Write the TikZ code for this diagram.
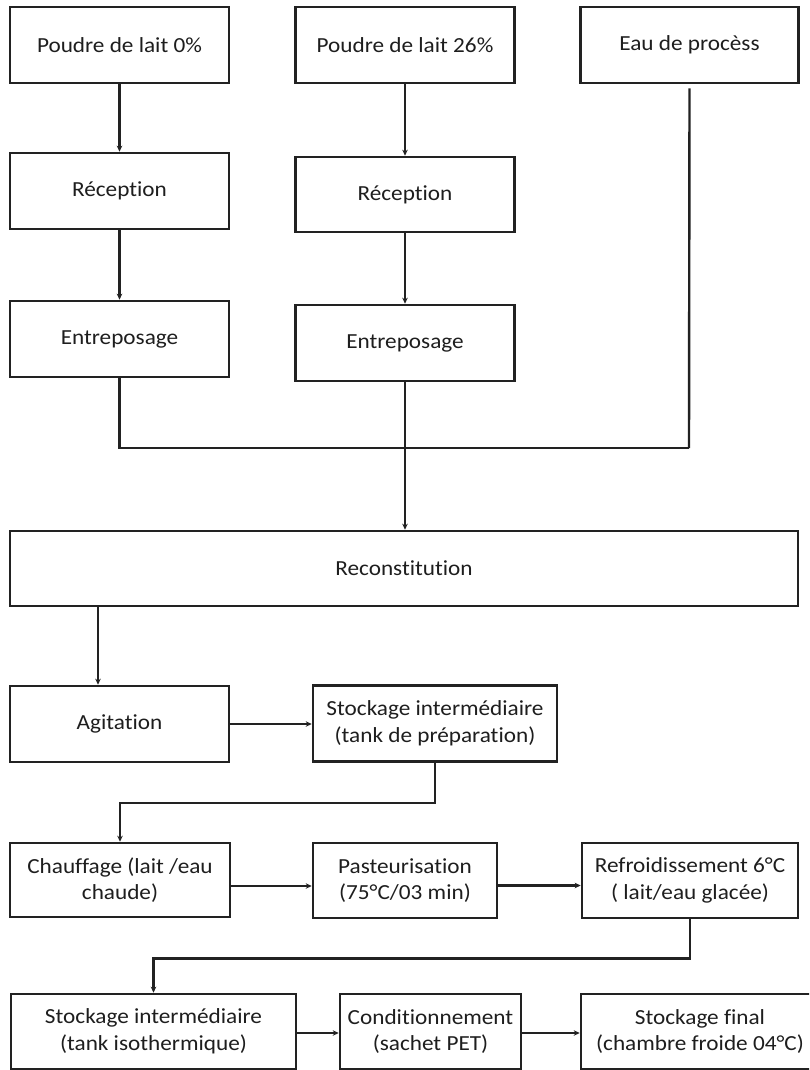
\documentclass[tikz,border=0pt]{standalone}
\usepackage{fontspec}
\setmainfont{Carlito}[FakeStretch=1.08, Ligatures=NoCommon]
\usetikzlibrary{arrows.meta}
\definecolor{ink}{HTML}{222222}
\definecolor{txt}{HTML}{1E1E1E}
\tikzset{
  stepbox/.style={draw=ink, line width=2.6pt, fill=white, inner sep=0pt,
    minimum width=#1, align=center, text=txt,
    font=\fontsize{21.5}{26.5}\selectfont},
  stepbox/.default=219pt,
  link/.style={draw=ink, line width=2.4pt},
  arr/.style={link, -{Stealth[length=6pt,width=5.5pt]}}
}
\begin{document}
\begin{tikzpicture}[x=1pt, y=-1pt]
\useasboundingbox (0,0) rectangle (809,1070);
\clip (0,0) rectangle (809,1070);
\fill[white] (0,0) rectangle (809,1070);

% raw materials
\node[stepbox, minimum height=76pt] (p0)  at (119.5,45) {Poudre de lait 0\%};
\node[stepbox, minimum height=76pt] (p26) at (405,45)   {Poudre de lait 26\%};
\node[stepbox=218pt, minimum height=76pt] (eau) at (689.5,45) {Eau de procèss};

% reception
\node[stepbox, minimum height=76pt] (rec1) at (119.5,191)   {Réception};
\node[stepbox, minimum height=75pt] (rec2) at (405,194.5)   {Réception};

% storage
\node[stepbox, minimum height=76pt] (ent1) at (119.5,339) {Entreposage};
\node[stepbox, minimum height=76pt] (ent2) at (405,343)   {Entreposage};

% reconstitution
\node[stepbox=788pt, minimum height=75pt] (recon) at (404,568.5) {Reconstitution};

% mixing and buffer tank
\node[stepbox, minimum height=76pt] (agit) at (119.5,724) {Agitation};
\node[stepbox=244pt, minimum height=76pt] (stk1) at (435,723.5)
  {Stockage intermédiaire\\(tank de préparation)};

% heat treatment
\node[stepbox=220pt, minimum height=74pt] (chauf) at (120,880) {Chauffage (lait /eau\\chaude)};
\node[stepbox=184pt, minimum height=75pt] (past) at (405,880.5) {Pasteurisation\\(75°C/03 min)};
\node[stepbox=216pt, minimum height=75pt] (refr) at (690,880.5) {Refroidissement 6°C\\( lait/eau glacée)};

% packaging and final storage
\node[stepbox=285pt, minimum height=75pt] (stk2) at (153.5,1031.5)
  {Stockage intermédiaire\\(tank isothermique)};
\node[stepbox=181pt, minimum height=75pt] (cond) at (430.5,1031.5)
  {Conditionnement\\(sachet PET)};
\node[stepbox=238pt, minimum height=75pt] (final) at (700,1031.5)
  {Stockage final\\(chambre froide 04°C)};

% connectors
\draw[arr] (p0.south) -- (rec1.north);
\draw[arr] (p26.south) -- (rec2.north);
\draw[arr] (rec1.south) -- (ent1.north);
\draw[arr] (rec2.south) -- (ent2.north);

\coordinate (merge) at (689,448);
\draw[link] (ent1.south) |- (merge);
\draw[link] ([yshift=-4pt]eau.south) -- (merge);
\draw[arr] (ent2.south) -- (recon.north -| ent2.south);

\coordinate (down) at (98,0);
\draw[arr] (recon.south -| down) -- (agit.north -| down);
\draw[arr] (agit.east) -- (agit.east -| stk1.west);
\draw[arr] (stk1.south) -- ++(0,40) -| (chauf.north);

\draw[arr] ([yshift=-6pt]chauf.east) -- ([yshift=-6pt]chauf.east -| past.west);
\draw[arr] ([yshift=-5pt]past.east) -- ([yshift=-5pt]past.east -| refr.west);
\draw[arr] (refr.south) -- ++(0,39) -| (stk2.north);

\draw[arr] ([yshift=-1.5pt]stk2.east) -- ([yshift=-1.5pt]stk2.east -| cond.west);
\draw[arr] ([yshift=-1.5pt]cond.east) -- ([yshift=-1.5pt]cond.east -| final.west);
\end{tikzpicture}
\end{document}
